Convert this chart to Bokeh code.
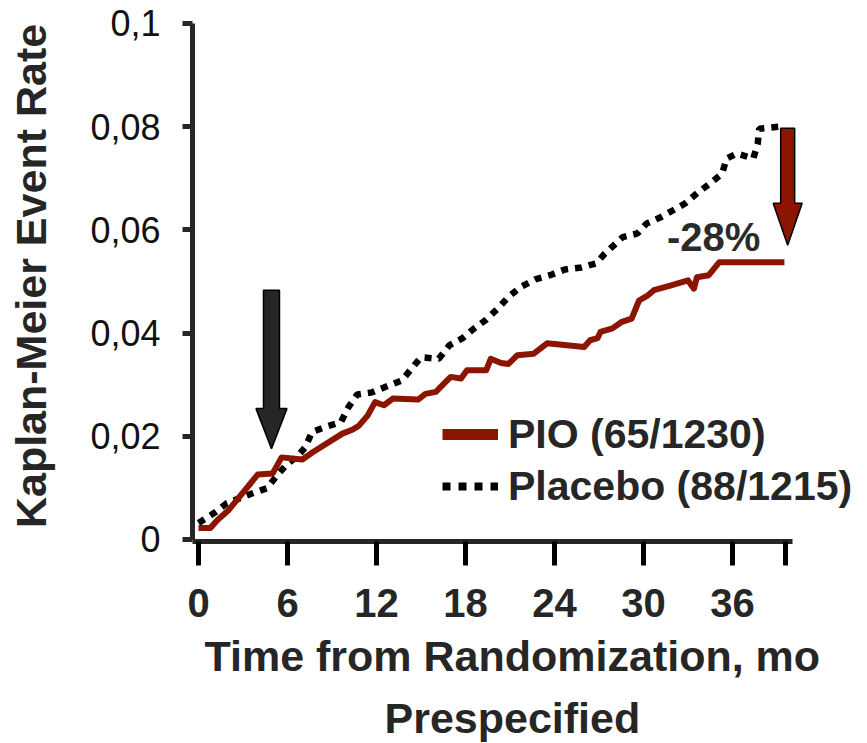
from bokeh.plotting import figure
from bokeh.models import FixedTicker, Range1d, Legend, LegendItem, Label, Title
from bokeh.embed import file_html
from bokeh.resources import INLINE

# ---------------- data ----------------
months_pio = [0.0, 0.8, 1.26, 2.0, 4.0, 5.0, 5.6, 7.0, 7.7, 9.7, 10.4, 10.8, 11.4, 11.9,
              12.5, 13.1, 14.8, 15.3, 16.0, 17.0, 17.7, 18.1, 19.4, 19.7, 20.4, 20.9,
              21.5, 22.6, 23.5, 26.0, 26.4, 26.9, 27.1, 27.9, 28.5, 29.2, 29.7, 30.3,
              30.7, 31.8, 33.0, 33.4, 33.6, 34.4, 35.1, 39.5]
rate_pio = [0.0022, 0.0022, 0.0037, 0.0056, 0.0126, 0.0128, 0.0159, 0.0155, 0.0169,
            0.0205, 0.0213, 0.0220, 0.0240, 0.0266, 0.0260, 0.0273, 0.0271, 0.0282,
            0.0286, 0.0315, 0.0312, 0.0328, 0.0328, 0.0350, 0.0342, 0.0340, 0.0357,
            0.0360, 0.0380, 0.0373, 0.0386, 0.0390, 0.0402, 0.0409, 0.0421, 0.0428,
            0.0463, 0.0473, 0.0483, 0.0492, 0.0502, 0.0486, 0.0508, 0.0512, 0.0537,
            0.0537]

months_placebo = [0.0, 1.15, 1.9, 2.8, 3.6, 4.6, 5.3, 6.0, 6.65, 7.2, 7.65, 8.55, 9.6,
                  10.1, 10.7, 11.7, 12.8, 13.7, 15.0, 16.2, 16.9, 17.8, 18.5, 19.4, 20.2,
                  20.9, 21.7, 22.7, 23.7, 24.7, 25.8, 26.8, 27.4, 28.0, 28.6, 29.6, 30.2,
                  31.2, 32.0, 32.8, 33.7, 34.5, 35.3, 35.6, 36.3, 37.4, 37.7, 37.8, 39.2]
rate_placebo = [0.0032, 0.0053, 0.0070, 0.0080, 0.0089, 0.0099, 0.0124, 0.0147, 0.0160,
                0.0179, 0.0208, 0.0218, 0.0227, 0.0256, 0.0281, 0.0285, 0.0298, 0.0308,
                0.0353, 0.0350, 0.0376, 0.0390, 0.0407, 0.0426, 0.0448, 0.0470, 0.0489,
                0.0504, 0.0512, 0.0523, 0.0527, 0.0535, 0.0554, 0.0570, 0.0586, 0.0593,
                0.0612, 0.0625, 0.0638, 0.0651, 0.0673, 0.0690, 0.0709, 0.0738, 0.0748,
                0.0738, 0.0767, 0.0796, 0.0800]

x_ticks = [0, 6, 12, 18, 24, 30, 36, 39.6]
x_tick_labels = ["0", "6", "12", "18", "24", "30", "36", ""]
y_ticks = [0, 0.02, 0.04, 0.06, 0.08, 0.1]
y_tick_labels = ["0", "0,02", "0,04", "0,06", "0,08", "0,1"]
series_labels = ["PIO (65/1230)", "Placebo (88/1215)"]
x_title = "Time from Randomization, mo"
y_title = "Kaplan-Meier Event Rate"
subtitle = "Prespecified"
reduction_text = "-28%"
reduction_pos = (34.73, 0.0587)
# arrows: (tip month, tip rate, tail rate)
arrow_6mo = (4.92, 0.0176, 0.0483)
arrow_end = (39.72, 0.0570, 0.0797)

# ---------------- styling ----------------
RED = "#8B1500"
DARK = "#262626"
FONT = "Liberation Sans"

W, H = 867, 743
ML, MR, MT, MB = 192, 0, 10, 202
frame_w = W - ML - MR
frame_h = H - MT - MB
x0 = -0.405
x1 = x0 + frame_w / 14.833
y0, y1 = -0.0004, 0.1025
sx = frame_w / (x1 - x0)
sy = frame_h / (y1 - y0)

p = figure(width=W, height=H, output_backend="svg", toolbar_location=None,
           x_range=Range1d(x0, x1), y_range=Range1d(y0, y1),
           min_border_left=ML, min_border_right=MR, min_border_top=MT,
           min_border_bottom=MB)
p.outline_line_color = None
p.grid.visible = False
p.background_fill_color = "white"
p.border_fill_color = "white"

# curves
p.line(months_placebo, rate_placebo, line_color="black", line_width=6.5,
       line_dash="7 7")
p.line(months_pio, rate_pio, line_color=RED, line_width=6, line_join="round")

# block arrows
def block_arrow(tip_x, tip_y, tail_y, shaft_px, head_px, head_len_px, color):
    hs = shaft_px / 2 / sx
    hh = head_px / 2 / sx
    hl = head_len_px / sy
    xs = [tip_x - hs, tip_x + hs, tip_x + hs, tip_x + hh, tip_x, tip_x - hh, tip_x - hs]
    ys = [tail_y, tail_y, tip_y + hl, tip_y + hl, tip_y, tip_y + hl, tip_y + hl]
    p.patch(xs, ys, fill_color=color, line_color="black", line_width=1.5)

block_arrow(*arrow_6mo, 16, 31, 40, DARK)
block_arrow(*arrow_end, 14, 29, 42, RED)

p.add_layout(Label(x=reduction_pos[0], y=reduction_pos[1], text=reduction_text,
                   text_align="center", text_baseline="middle",
                   text_font=FONT, text_font_style="bold", text_font_size="40px",
                   text_color="#2b2b2b"))

# axes
xa = p.xaxis[0]
xa.ticker = FixedTicker(ticks=x_ticks)
xa.major_label_overrides = {t: l for t, l in zip(x_ticks, x_tick_labels)}
xa.bounds = (x0, 40.05)
xa.axis_line_width = 5
xa.axis_line_color = DARK
xa.major_tick_line_width = 5
xa.major_tick_line_color = "black"
xa.major_tick_out = 24
xa.major_tick_in = 0
xa.minor_tick_line_color = None
xa.major_label_text_font = FONT
xa.major_label_text_font_style = "bold"
xa.major_label_text_font_size = "40px"
xa.major_label_text_color = DARK
xa.major_label_standoff = 23

ya = p.yaxis[0]
ya.ticker = FixedTicker(ticks=y_ticks)
ya.major_label_overrides = {t: l for t, l in zip(y_ticks, y_tick_labels)}
ya.bounds = (0, 0.1)
ya.axis_line_width = 5
ya.axis_line_color = DARK
ya.major_tick_line_width = 5
ya.major_tick_line_color = DARK
ya.major_tick_out = 10
ya.major_tick_in = 0
ya.minor_tick_line_color = None
ya.major_label_text_font = FONT
ya.major_label_text_font_size = "36px"
ya.major_label_text_color = "#111111"
ya.major_label_standoff = 22
ya.axis_label = y_title
ya.axis_label_text_font = FONT
ya.axis_label_text_font_style = "bold"
ya.axis_label_text_font_size = "43px"
ya.axis_label_text_color = DARK
ya.axis_label_standoff = 32

# x-axis title and subtitle as below titles (frame is wider than the axis)
p.add_layout(Title(text=x_title, align="left", offset=12, standoff=20,
                   text_font=FONT, text_font_style="bold", text_font_size="43px",
                   text_color=DARK), "below")
p.add_layout(Title(text=subtitle, align="left", offset=192, standoff=4,
                   text_font=FONT, text_font_style="bold", text_font_size="43px",
                   text_color=DARK), "below")

# legend (dedicated legend glyphs, thicker as in the reference)
nan = float("nan")
leg_pio = p.line([nan], [nan], line_color=RED, line_width=11)
leg_pla = p.line([nan], [nan], line_color="black", line_width=8, line_dash="8 8")
legend = Legend(items=[LegendItem(label=series_labels[0], renderers=[leg_pio]),
                       LegendItem(label=series_labels[1], renderers=[leg_pla])],
                location=(250, 29), glyph_width=56, glyph_height=52, label_height=52,
                label_standoff=10, spacing=0, padding=0, margin=0,
                border_line_alpha=0, background_fill_alpha=0,
                label_text_font=FONT, label_text_font_style="bold",
                label_text_font_size="41px", label_text_color=DARK)
p.add_layout(legend)

open("out.html", "w").write(file_html(p, INLINE))
